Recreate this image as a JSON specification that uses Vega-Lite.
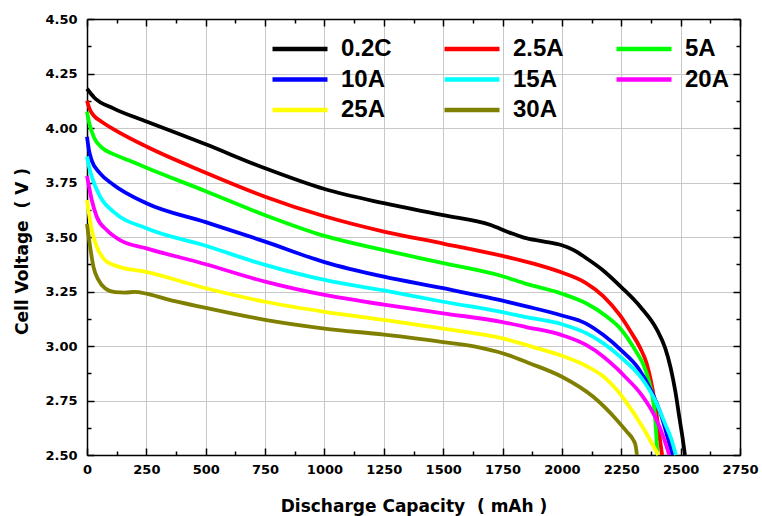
{
  "$schema": "https://vega.github.io/schema/vega-lite/v6.json",
  "autosize": "none",
  "padding": {"left": 87, "top": 19, "right": 22, "bottom": 61},
  "width": 653,
  "height": 436,
  "background": "white",
  "config": {
    "view": {"stroke": null},
    "axis": {
      "domainColor": "black", "domainWidth": 1.5,
      "tickColor": "black", "tickWidth": 1.5,
      "gridColor": "#c8c8c8", "gridWidth": 1,
      "labelFont": "DejaVu Sans", "labelFontWeight": "bold", "labelFontSize": 13, "labelColor": "black",
      "titleFont": "DejaVu Sans", "titleFontWeight": "bold", "titleFontSize": 17, "titleColor": "black",
      "labelFlush": false, "labelOverlap": false
    }
  },
  "data": {"values": [
    {"series":"0.2C","capacity":0,"voltage":4.18},{"series":"0.2C","capacity":30,"voltage":4.14},{"series":"0.2C","capacity":111,"voltage":4.09},{"series":"0.2C","capacity":250,"voltage":4.03},{"series":"0.2C","capacity":500,"voltage":3.925},{"series":"0.2C","capacity":750,"voltage":3.815},{"series":"0.2C","capacity":1000,"voltage":3.72},{"series":"0.2C","capacity":1250,"voltage":3.655},{"series":"0.2C","capacity":1500,"voltage":3.6},{"series":"0.2C","capacity":1700,"voltage":3.555},{"series":"0.2C","capacity":1780,"voltage":3.52},{"series":"0.2C","capacity":1840,"voltage":3.497},{"series":"0.2C","capacity":1920,"voltage":3.48},{"series":"0.2C","capacity":2000,"voltage":3.462},{"series":"0.2C","capacity":2050,"voltage":3.44},{"series":"0.2C","capacity":2100,"voltage":3.405},{"series":"0.2C","capacity":2170,"voltage":3.35},{"series":"0.2C","capacity":2250,"voltage":3.27},{"series":"0.2C","capacity":2330,"voltage":3.18},{"series":"0.2C","capacity":2400,"voltage":3.075},{"series":"0.2C","capacity":2435,"voltage":2.99},{"series":"0.2C","capacity":2458,"voltage":2.9},{"series":"0.2C","capacity":2478,"voltage":2.79},{"series":"0.2C","capacity":2495,"voltage":2.67},{"series":"0.2C","capacity":2508,"voltage":2.58},{"series":"0.2C","capacity":2518,"voltage":2.5},
    {"series":"2.5A","capacity":0,"voltage":4.125},{"series":"2.5A","capacity":10,"voltage":4.09},{"series":"2.5A","capacity":30,"voltage":4.055},{"series":"2.5A","capacity":60,"voltage":4.03},{"series":"2.5A","capacity":111,"voltage":3.995},{"series":"2.5A","capacity":250,"voltage":3.915},{"series":"2.5A","capacity":500,"voltage":3.795},{"series":"2.5A","capacity":750,"voltage":3.685},{"series":"2.5A","capacity":1000,"voltage":3.595},{"series":"2.5A","capacity":1250,"voltage":3.525},{"series":"2.5A","capacity":1500,"voltage":3.47},{"series":"2.5A","capacity":1750,"voltage":3.413},{"series":"2.5A","capacity":1880,"voltage":3.378},{"series":"2.5A","capacity":2000,"voltage":3.337},{"series":"2.5A","capacity":2100,"voltage":3.29},{"series":"2.5A","capacity":2175,"voltage":3.228},{"series":"2.5A","capacity":2245,"voltage":3.14},{"series":"2.5A","capacity":2290,"voltage":3.065},{"series":"2.5A","capacity":2330,"voltage":2.99},{"series":"2.5A","capacity":2357,"voltage":2.92},{"series":"2.5A","capacity":2375,"voltage":2.84},{"series":"2.5A","capacity":2390,"voltage":2.75},{"series":"2.5A","capacity":2402,"voltage":2.66},{"series":"2.5A","capacity":2413,"voltage":2.57},{"series":"2.5A","capacity":2422,"voltage":2.5},
    {"series":"5A","capacity":0,"voltage":4.075},{"series":"5A","capacity":10,"voltage":4.02},{"series":"5A","capacity":30,"voltage":3.955},{"series":"5A","capacity":60,"voltage":3.912},{"series":"5A","capacity":111,"voltage":3.88},{"series":"5A","capacity":175,"voltage":3.852},{"series":"5A","capacity":250,"voltage":3.818},{"series":"5A","capacity":500,"voltage":3.71},{"series":"5A","capacity":750,"voltage":3.6},{"series":"5A","capacity":1000,"voltage":3.505},{"series":"5A","capacity":1250,"voltage":3.44},{"series":"5A","capacity":1500,"voltage":3.38},{"series":"5A","capacity":1750,"voltage":3.32},{"series":"5A","capacity":1850,"voltage":3.285},{"series":"5A","capacity":2000,"voltage":3.24},{"series":"5A","capacity":2100,"voltage":3.197},{"series":"5A","capacity":2190,"voltage":3.134},{"series":"5A","capacity":2250,"voltage":3.075},{"series":"5A","capacity":2315,"voltage":2.97},{"series":"5A","capacity":2343,"voltage":2.915},{"series":"5A","capacity":2365,"voltage":2.845},{"series":"5A","capacity":2381,"voltage":2.77},{"series":"5A","capacity":2391,"voltage":2.69},{"series":"5A","capacity":2397,"voltage":2.6},{"series":"5A","capacity":2402,"voltage":2.5},
    {"series":"10A","capacity":0,"voltage":3.96},{"series":"10A","capacity":8,"voltage":3.9},{"series":"10A","capacity":20,"voltage":3.85},{"series":"10A","capacity":55,"voltage":3.792},{"series":"10A","capacity":111,"voltage":3.74},{"series":"10A","capacity":250,"voltage":3.655},{"series":"10A","capacity":500,"voltage":3.568},{"series":"10A","capacity":750,"voltage":3.479},{"series":"10A","capacity":1000,"voltage":3.385},{"series":"10A","capacity":1250,"voltage":3.318},{"series":"10A","capacity":1500,"voltage":3.265},{"series":"10A","capacity":1750,"voltage":3.208},{"series":"10A","capacity":1850,"voltage":3.182},{"series":"10A","capacity":2000,"voltage":3.14},{"series":"10A","capacity":2100,"voltage":3.104},{"series":"10A","capacity":2175,"voltage":3.05},{"series":"10A","capacity":2250,"voltage":2.98},{"series":"10A","capacity":2322,"voltage":2.898},{"series":"10A","capacity":2378,"voltage":2.79},{"series":"10A","capacity":2420,"voltage":2.676},{"series":"10A","capacity":2448,"voltage":2.57},{"series":"10A","capacity":2466,"voltage":2.5},
    {"series":"15A","capacity":0,"voltage":3.87},{"series":"15A","capacity":5,"voltage":3.84},{"series":"15A","capacity":20,"voltage":3.777},{"series":"15A","capacity":55,"voltage":3.685},{"series":"15A","capacity":111,"voltage":3.616},{"series":"15A","capacity":250,"voltage":3.54},{"series":"15A","capacity":500,"voltage":3.46},{"series":"15A","capacity":750,"voltage":3.372},{"series":"15A","capacity":1000,"voltage":3.303},{"series":"15A","capacity":1250,"voltage":3.255},{"series":"15A","capacity":1500,"voltage":3.203},{"series":"15A","capacity":1750,"voltage":3.155},{"series":"15A","capacity":1850,"voltage":3.132},{"series":"15A","capacity":2000,"voltage":3.1},{"series":"15A","capacity":2100,"voltage":3.06},{"series":"15A","capacity":2175,"voltage":3.012},{"series":"15A","capacity":2245,"voltage":2.951},{"series":"15A","capacity":2336,"voltage":2.852},{"series":"15A","capacity":2392,"voltage":2.752},{"series":"15A","capacity":2434,"voltage":2.645},{"series":"15A","capacity":2462,"voltage":2.569},{"series":"15A","capacity":2480,"voltage":2.5},
    {"series":"20A","capacity":0,"voltage":3.78},{"series":"20A","capacity":20,"voltage":3.67},{"series":"20A","capacity":41,"voltage":3.593},{"series":"20A","capacity":83,"voltage":3.532},{"series":"20A","capacity":139,"voltage":3.486},{"series":"20A","capacity":250,"voltage":3.448},{"series":"20A","capacity":500,"voltage":3.375},{"series":"20A","capacity":750,"voltage":3.295},{"series":"20A","capacity":1000,"voltage":3.234},{"series":"20A","capacity":1250,"voltage":3.19},{"series":"20A","capacity":1500,"voltage":3.15},{"series":"20A","capacity":1750,"voltage":3.11},{"series":"20A","capacity":1850,"voltage":3.087},{"series":"20A","capacity":2000,"voltage":3.05},{"series":"20A","capacity":2100,"voltage":3.006},{"series":"20A","capacity":2175,"voltage":2.951},{"series":"20A","capacity":2230,"voltage":2.898},{"series":"20A","capacity":2266,"voltage":2.859},{"series":"20A","capacity":2336,"voltage":2.775},{"series":"20A","capacity":2392,"voltage":2.676},{"series":"20A","capacity":2427,"voltage":2.584},{"series":"20A","capacity":2452,"voltage":2.5},
    {"series":"25A","capacity":0,"voltage":3.67},{"series":"25A","capacity":20,"voltage":3.532},{"series":"25A","capacity":41,"voltage":3.456},{"series":"25A","capacity":76,"voltage":3.394},{"series":"25A","capacity":132,"voltage":3.364},{"series":"25A","capacity":244,"voltage":3.341},{"series":"25A","capacity":500,"voltage":3.265},{"series":"25A","capacity":750,"voltage":3.203},{"series":"25A","capacity":1000,"voltage":3.157},{"series":"25A","capacity":1250,"voltage":3.12},{"series":"25A","capacity":1500,"voltage":3.08},{"series":"25A","capacity":1750,"voltage":3.035},{"series":"25A","capacity":1880,"voltage":2.995},{"series":"25A","capacity":2000,"voltage":2.955},{"series":"25A","capacity":2100,"voltage":2.91},{"series":"25A","capacity":2175,"voltage":2.86},{"series":"25A","capacity":2230,"voltage":2.8},{"series":"25A","capacity":2266,"voltage":2.75},{"series":"25A","capacity":2336,"voltage":2.635},{"series":"25A","capacity":2378,"voltage":2.555},{"series":"25A","capacity":2406,"voltage":2.5},
    {"series":"30A","capacity":0,"voltage":3.56},{"series":"30A","capacity":13,"voltage":3.456},{"series":"30A","capacity":27,"voltage":3.364},{"series":"30A","capacity":48,"voltage":3.303},{"series":"30A","capacity":76,"voltage":3.265},{"series":"30A","capacity":118,"voltage":3.247},{"series":"30A","capacity":160,"voltage":3.245},{"series":"30A","capacity":200,"voltage":3.248},{"series":"30A","capacity":250,"voltage":3.24},{"series":"30A","capacity":335,"voltage":3.215},{"series":"30A","capacity":500,"voltage":3.175},{"series":"30A","capacity":750,"voltage":3.12},{"series":"30A","capacity":1000,"voltage":3.08},{"series":"30A","capacity":1250,"voltage":3.052},{"series":"30A","capacity":1500,"voltage":3.018},{"series":"30A","capacity":1650,"voltage":2.994},{"series":"30A","capacity":1750,"voltage":2.967},{"series":"30A","capacity":1866,"voltage":2.92},{"series":"30A","capacity":2000,"voltage":2.859},{"series":"30A","capacity":2132,"voltage":2.767},{"series":"30A","capacity":2231,"voltage":2.661},{"series":"30A","capacity":2275,"voltage":2.605},{"series":"30A","capacity":2300,"voltage":2.57},{"series":"30A","capacity":2310,"voltage":2.545},{"series":"30A","capacity":2316,"voltage":2.5}
  ]},
  "resolve": {"axis": {"x": "independent", "y": "independent"}},
  "layer": [
    {
      "mark": {"type": "line", "strokeWidth": 3.8, "interpolate": "monotone"},
      "encoding": {
        "x": {"field": "capacity", "type": "quantitative",
          "scale": {"domain": [0, 2750], "nice": false, "zero": false},
          "axis": {"orient": "bottom", "values": [0,250,500,750,1000,1250,1500,1750,2000,2250,2500,2750], "format": "d",
            "grid": true, "tickSize": -7, "labelPadding": 15,
            "title": "Discharge Capacity\u00a0 ( mAh )", "titleX": 326.5, "titleY": 51, "titleBaseline": "middle", "titleAlign": "center"}},
        "y": {"field": "voltage", "type": "quantitative",
          "scale": {"domain": [2.5, 4.5], "nice": false, "zero": false},
          "axis": {"orient": "left", "values": [2.5,2.75,3,3.25,3.5,3.75,4,4.25,4.5], "format": ".2f",
            "grid": true, "tickSize": -7, "labelPadding": 17,
            "title": "Cell Voltage\u00a0\u00a0( V )", "titleX": -65, "titleY": 232, "titleBaseline": "middle", "titleAlign": "center", "titleAngle": 270}},
        "color": {"field": "series", "type": "nominal",
          "scale": {"domain": ["0.2C","2.5A","5A","10A","15A","20A","25A","30A"],
                    "range": ["#000000","#ff0000","#00ff00","#0000ff","#00ffff","#ff00ff","#ffff00","#808000"]},
          "legend": {"orient": "none", "legendX": 183, "legendY": 18, "columns": 3, "direction": "horizontal", "title": null,
            "symbolType": "stroke", "symbolSize": 3025, "symbolStrokeWidth": 4.5,
            "labelFont": "Liberation Sans", "labelFontSize": 24, "labelFontWeight": "bold", "labelColor": "black",
            "labelOffset": 11, "columnPadding": 50, "rowPadding": 6.5, "clipHeight": 24, "padding": 0}}
      }
    },
    {
      "mark": {"type": "point", "opacity": 0},
      "encoding": {
        "x": {"field": "capacity", "type": "quantitative",
          "axis": {"orient": "top", "values": [0,250,500,750,1000,1250,1500,1750,2000,2250,2500,2750],
            "grid": false, "labels": false, "title": null, "tickSize": -7}},
        "y": {"field": "voltage", "type": "quantitative",
          "axis": {"orient": "right", "values": [2.5,2.75,3,3.25,3.5,3.75,4,4.25,4.5],
            "grid": false, "labels": false, "title": null, "tickSize": -7}}
      }
    },
    {
      "mark": {"type": "point", "opacity": 0},
      "encoding": {
        "x": {"field": "capacity", "type": "quantitative",
          "axis": {"orient": "bottom", "values": [125,375,625,875,1125,1375,1625,1875,2125,2375,2625],
            "grid": false, "labels": false, "title": null, "domain": false, "tickSize": -4}},
        "y": {"field": "voltage", "type": "quantitative",
          "axis": {"orient": "left", "values": [2.625,2.875,3.125,3.375,3.625,3.875,4.125,4.375],
            "grid": false, "labels": false, "title": null, "domain": false, "tickSize": -4}}
      }
    },
    {
      "mark": {"type": "point", "opacity": 0},
      "encoding": {
        "x": {"field": "capacity", "type": "quantitative",
          "axis": {"orient": "top", "values": [125,375,625,875,1125,1375,1625,1875,2125,2375,2625],
            "grid": false, "labels": false, "title": null, "domain": false, "tickSize": -4}},
        "y": {"field": "voltage", "type": "quantitative",
          "axis": {"orient": "right", "values": [2.625,2.875,3.125,3.375,3.625,3.875,4.125,4.375],
            "grid": false, "labels": false, "title": null, "domain": false, "tickSize": -4}}
      }
    }
  ]
}
